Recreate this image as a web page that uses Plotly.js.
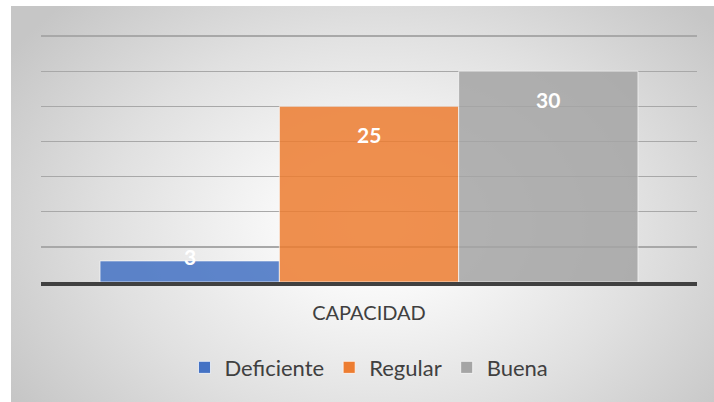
<!DOCTYPE html>
<html>
<head>
<meta charset="utf-8">
<script src="https://cdn.plot.ly/plotly-3.0.1.min.js"></script>
<style>
  html, body { margin: 0; padding: 0; background: #ffffff; }
  #wrap { position: relative; width: 714px; height: 402px; overflow: hidden; }
  #bg { position: absolute; left: 11px; top: 6px; right: 0; bottom: 0;
        background: radial-gradient(ellipse 62% 80% at 52% 55%, #ffffff 0%, #f8f8f8 22%, #e0e0e0 62%, #c6c6c6 100%); }
  #chart { position: absolute; left: 0; top: 0; width: 714px; height: 402px; }
</style>
</head>
<body>
<div id="wrap"><div id="bg"></div><div id="chart"></div></div>
<script>
const categories = ['CAPACIDAD'];
const seriesNames = ['Deficiente', 'Regular', 'Buena'];
const deficiente = [3];
const regular = [25];
const buena = [30];
const seriesColors = ['#4472C4', '#ED7D31', '#A5A5A5'];
const seriesValues = [deficiente, regular, buena];

const W = 714, H = 402;
const margin = { l: 41, r: 17, t: 34, b: 120 };
const yMax = 35.3;
const bargap = 0.18;
const pxPerUnit = (H - margin.t - margin.b) / yMax;
const fontFam = 'Lato, "Open Sans", sans-serif';

const traces = seriesNames.map((name, i) => ({
  type: 'bar',
  name: name,
  x: categories,
  y: seriesValues[i],
  marker: { color: seriesColors[i], opacity: 0.85, line: { color: 'rgba(255,255,255,0.7)', width: 1 } },
  hoverinfo: 'none'
}));

// value labels: placed at each bar's top (data value), near the inside end
const groupW = 1 - bargap;
const barW = groupW / seriesNames.length;
const annotations = [];
seriesValues.forEach((vals, i) => {
  vals.forEach((v, j) => {
    const barPx = v * pxPerUnit;
    annotations.push({
      x: j - groupW / 2 + (i + 0.5) * barW,
      y: v,
      xref: 'x', yref: 'y',
      text: String(v),
      showarrow: false,
      xanchor: 'center', yanchor: 'middle',
      yshift: barPx > 40 ? -28 : 4,
      font: { family: fontFam, size: 21, color: '#ffffff', weight: 'bold' }
    });
  });
});

const layout = {
  width: W, height: H,
  margin: margin,
  paper_bgcolor: 'rgba(0,0,0,0)',
  plot_bgcolor: 'rgba(0,0,0,0)',
  barmode: 'group',
  bargap: bargap,
  bargroupgap: 0,
  showlegend: true,
  font: { family: fontFam, color: '#404040' },
  xaxis: {
    type: 'category',
    range: [-0.5, 0.5],
    showline: true, linecolor: '#404040', linewidth: 3.5,
    ticks: '', showgrid: false,
    tickfont: { size: 20, color: '#404040' },
    ticklabelstandoff: 10
  },
  yaxis: {
    range: [0, yMax],
    dtick: 5,
    showticklabels: false,
    showgrid: true, gridcolor: '#a8a8a8', gridwidth: 1.3,
    zeroline: false, showline: false, ticks: ''
  },
  legend: {
    orientation: 'h', x: 0.5, xanchor: 'center', y: -0.345, yanchor: 'middle',
    font: { size: 22, color: '#404040' },
    bgcolor: 'rgba(0,0,0,0)',
    itemclick: false
  },
  annotations: annotations
};

Plotly.newPlot('chart', traces, layout, { staticPlot: true, displayModeBar: false });
</script>
</body>
</html>
